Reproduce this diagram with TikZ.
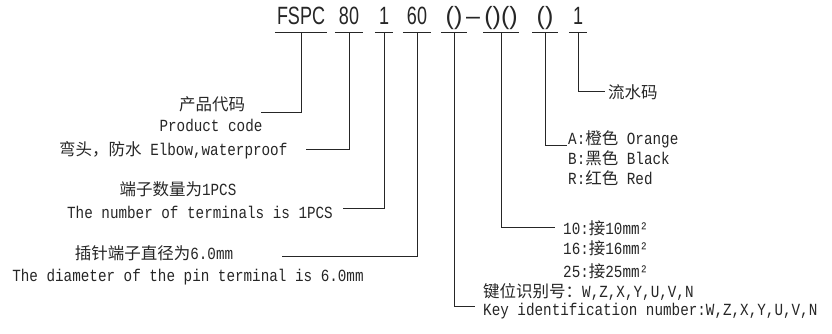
\documentclass[tikz,border=0pt]{standalone}
\usepackage{fontspec}
\setmainfont{Liberation Mono}[FakeStretch=0.84]
\newfontfamily\cjkfont{Noto Sans CJK SC}
\newfontfamily\codefont{Liberation Sans}[FakeStretch=0.72]
\newfontfamily\parenfont{Liberation Sans}
\usetikzlibrary{positioning}
\newcommand{\cn}[1]{{\cjkfont\fontsize{16.5}{18}\selectfont #1}}
\tikzset{
codePart/.style={
	font=\codefont\fontsize{25}{26}\selectfont, text=black!85,
	inner xsep=4pt, inner ysep=2pt, text depth=5pt, anchor=base
}
, codeParen/.style={codePart, font=\parenfont\fontsize{25}{26}\selectfont}
, myLabel/.style={inner sep=0pt, text=black!85, font=\fontsize{17}{18}\selectfont}
% lines
, myUnder/.style={line width=1pt, color=black!85}
, myLead/.style={line width=1pt, color=black!85}
}

\begin{document}
\begin{tikzpicture}[x=1pt,y=-1pt]
	\useasboundingbox (0,0) rectangle (832,334);
	% code
	\node[codePart, inner xsep=2pt] (fspc) at (301,25) {FSPC};
	\node[codePart] (ang)  at (349,25) {80};
	\node[codePart] (pins) at (384,25) {1};
	\node[codePart] (dia)  at (417,25) {60};
	\node[codeParen] (key) at (454,25) {()};
	\node[codeParen, inner xsep=0pt] (dash) at (473,25) {–};
	\node[codeParen, inner xsep=1pt] (wire) at (501,25) {()()};
	\node[codeParen] (col) at (545,25) {()};
	\node[codePart] (ser)  at (578,25) {1};
	\foreach \n in {fspc,ang,pins,dia,key,wire,col,ser}
		\draw[myUnder] (\n.south west) -- (\n.south east);

	% labels, left
	\node[myLabel] (prodCn) at (212,104) {\cn{产品代码}};
	\node[myLabel] (prodEn) at (211,125) {Product code};
	\node[myLabel, anchor=west] (elbow) at (59,150) {\cn{弯头，防水} Elbow,waterproof};
	\node[myLabel] (pinsCn) at (178,189) {\cn{端子数量为}1PCS};
	\node[myLabel] (pinsEn) at (200,212) {The number of terminals is 1PCS};
	\node[myLabel] (diaCn) at (154,253) {\cn{插针端子直径为}6.0mm};
	\node[myLabel] (diaEn) at (188,277) {The diameter of the pin terminal is 6.0mm};
	% labels, right
	\node[myLabel, anchor=west] (serial) at (608,92) {\cn{流水码}};
	\node[myLabel, anchor=west] (colA) at (568,139) {A:\cn{橙色} Orange};
	\node[myLabel, anchor=west] (colB) at (568,158) {B:\cn{黑色} Black};
	\node[myLabel, anchor=west] (colR) at (568,178) {R:\cn{红色} Red};
	\node[myLabel, anchor=west] (wireA) at (563,228) {10:\cn{接}10mm²};
	\node[myLabel, anchor=west] (wireB) at (563,248) {16:\cn{接}16mm²};
	\node[myLabel, anchor=west] (wireC) at (563,271) {25:\cn{接}25mm²};
	\node[myLabel, anchor=west] (keyCn) at (483,292) {\cn{键位识别号：}W,Z,X,Y,U,V,N};
	\node[myLabel, anchor=west] (keyEn) at (483,311) {Key identification number:W,Z,X,Y,U,V,N};

	% lead ends
	\coordinate (prodEnd)  at (261,113);
	\coordinate (elbowEnd) at (306,149);
	\coordinate (pinsEnd)  at (343,208);
	\coordinate (diaEnd)   at (282,256);
	\coordinate (keyEnd)   at (475,306);
	\coordinate (wireEnd)  at (555,227);
	\coordinate (colEnd)   at (567,145);
	\coordinate (serEnd)   at (605,92);

	% leads
	\draw[myLead] (fspc.south) |- (prodEnd);
	\draw[myLead] (ang.south)  |- (elbowEnd);
	\draw[myLead] (pins.south) |- (pinsEnd);
	\draw[myLead] (dia.south)  |- (diaEnd);
	\draw[myLead] (key.south)  |- (keyEnd);
	\draw[myLead] (wire.south) |- (wireEnd);
	\draw[myLead] (col.south)  |- (colEnd);
	\draw[myLead] (ser.south)  |- (serEnd);
\end{tikzpicture}
\end{document}
